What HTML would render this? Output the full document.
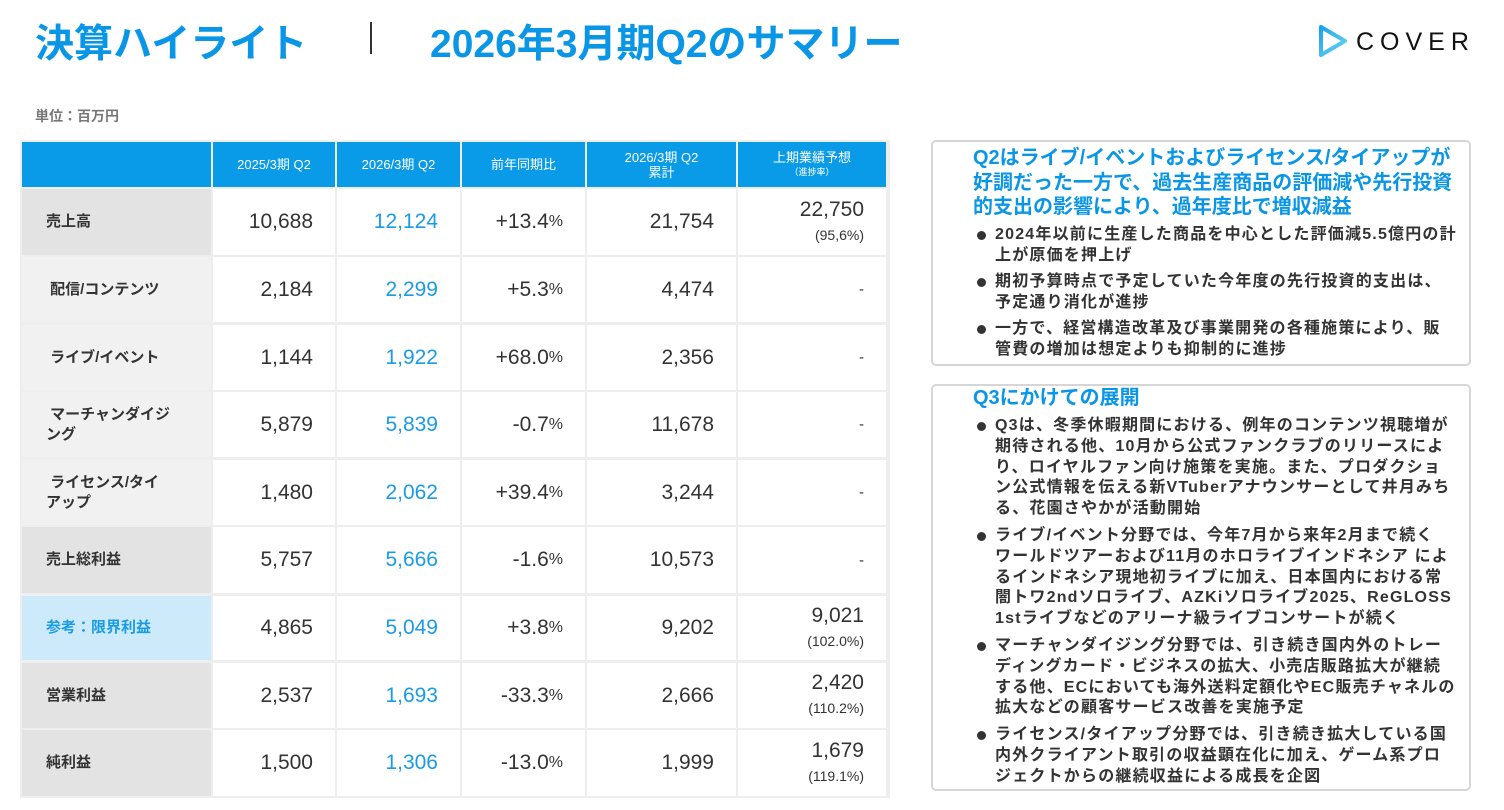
<!DOCTYPE html>
<html><head><meta charset="utf-8"><style>
body{margin:0;width:1504px;height:810px;background:#fff;font-family:"Liberation Sans","Noto Sans CJK JP",sans-serif;position:relative;overflow:hidden}
.a{position:absolute}
.h1{color:#0a96e6;font-size:39px;font-weight:bold;top:13px}
.c{position:absolute;background:#fff}
.hd{background:#0a9be8;color:#fff;font-size:13px;text-align:center;display:flex;align-items:center;justify-content:center;flex-direction:column;line-height:15px}
.lb{display:flex;align-items:center;padding-left:24px;font-size:15px;font-weight:bold;color:#333;box-sizing:border-box;line-height:20px}
.n{font-size:21px;color:#333;text-align:right;box-sizing:border-box;padding-right:22px;display:flex;align-items:center;justify-content:flex-end}
.bl{color:#1a9be6}
.box{position:absolute;border:2px solid #d6d6d6;border-radius:5px;box-sizing:border-box}
.t{color:#0a96e6;font-weight:bold;font-size:20px;line-height:24.5px;position:absolute;left:40px;white-space:nowrap}
ul{position:absolute;left:40px;margin:0;padding:0;list-style:none;font-size:16px;font-weight:bold;color:#333;line-height:20.5px;white-space:nowrap;letter-spacing:1.2px}
li{position:relative;padding-left:22px;margin-bottom:6px}
li:before{content:"";position:absolute;left:4px;top:6px;width:9px;height:9px;border-radius:50%;background:#333}
</style></head><body>
<div class="a h1" style="left:35px">決算ハイライト</div>
<div class="a" style="left:370px;top:22px;width:2px;height:32px;background:#333"></div>
<div class="a h1" style="left:430px">2026年3月期Q2のサマリー</div>
<svg class="a" style="left:1318px;top:24px" width="30" height="34"><defs><linearGradient id="g" x1="0" y1="0" x2="1" y2="1"><stop offset="0" stop-color="#1aa0f0"/><stop offset="1" stop-color="#6ed8f0"/></linearGradient></defs><path d="M3 3 L27 17 L3 31 Z" fill="none" stroke="url(#g)" stroke-width="4" stroke-linejoin="round"/></svg>
<div class="a" style="left:1356px;top:28px;font-size:25px;letter-spacing:6px;color:#111">COVER</div>
<div class="a" style="left:35px;top:106px;font-size:14px;font-weight:bold;color:#777">単位：百万円</div>
<div class="a" style="left:20px;top:140px;width:870px;height:658px;background:#eeeeee"></div>
<div id="tb"></div>
<div class="box" style="left:931px;top:140px;width:540px;height:226px">
<div class="t" style="top:4px">Q2はライブ/イベントおよびライセンス/タイアップが<br>好調だった一方で、過去生産商品の評価減や先行投資<br>的支出の影響により、過年度比で増収減益</div>
<ul style="top:83px"><li>2024年以前に生産した商品を中心とした評価減5.5億円の計<br>上が原価を押上げ</li><li>期初予算時点で予定していた今年度の先行投資的支出は、<br>予定通り消化が進捗</li><li>一方で、経営構造改革及び事業開発の各種施策により、販<br>管費の増加は想定よりも抑制的に進捗</li></ul>
</div>
<div class="box" style="left:931px;top:384px;width:540px;height:407px">
<div class="t" style="top:0px">Q3にかけての展開</div>
<ul style="top:30px;line-height:20.8px"><li>Q3は、冬季休暇期間における、例年のコンテンツ視聴増が<br>期待される他、10月から公式ファンクラブのリリースによ<br>り、ロイヤルファン向け施策を実施。また、プロダクショ<br>ン公式情報を伝える新VTuberアナウンサーとして井月みち<br>る、花園さやかが活動開始</li><li>ライブ/イベント分野では、今年7月から来年2月まで続く<br>ワールドツアーおよび11月のホロライブインドネシア によ<br>るインドネシア現地初ライブに加え、日本国内における常<br>闇トワ2ndソロライブ、AZKiソロライブ2025、ReGLOSS<br>1stライブなどのアリーナ級ライブコンサートが続く</li><li>マーチャンダイジング分野では、引き続き国内外のトレー<br>ディングカード・ビジネスの拡大、小売店販路拡大が継続<br>する他、ECにおいても海外送料定額化やEC販売チャネルの<br>拡大などの顧客サービス改善を実施予定</li><li>ライセンス/タイアップ分野では、引き続き拡大している国<br>内外クライアント取引の収益顕在化に加え、ゲーム系プロ<br>ジェクトからの継続収益による成長を企図</li></ul>
</div>
<script>
var X=[22,213,337,462,587,738,888];
var H=['','2025/3期 Q2','2026/3期 Q2','前年同期比','2026/3期 Q2<br>累計','上期業績予想<br><span style="font-size:9px">（進捗率）</span>'];
var R=[[189,255],[257,322],[325,390],[392,457],[460,525],[527,593],[596,660],[663,728],[730,796]];
var D=[['売上高','10,688','12,124','+13.4','21,754','22,750','(95,6%)',0],
['&nbsp;配信/コンテンツ','2,184','2,299','+5.3','4,474','-','',1],
['&nbsp;ライブ/イベント','1,144','1,922','+68.0','2,356','-','',1],
['&nbsp;マーチャンダイジ<br>ング','5,879','5,839','-0.7','11,678','-','',1],
['&nbsp;ライセンス/タイ<br>アップ','1,480','2,062','+39.4','3,244','-','',1],
['売上総利益','5,757','5,666','-1.6','10,573','-','',0],
['参考：限界利益','4,865','5,049','+3.8','9,202','9,021','(102.0%)',2],
['営業利益','2,537','1,693','-33.3','2,666','2,420','(110.2%)',0],
['純利益','1,500','1,306','-13.0','1,999','1,679','(119.1%)',0]];
var h='';
for(var i=0;i<6;i++){h+='<div class="c hd" style="left:'+X[i]+'px;top:142px;width:'+(X[i+1]-X[i]-2)+'px;height:45px">'+H[i]+'</div>';}
D.forEach(function(d,r){var t=R[r][0],hh=R[r][1]-t;
var bg=d[7]==2?'#cdeafa':(d[7]==1?'#f1f1f1':'#e3e3e3');var col=d[7]==2?'#1a9be6':'#333';
h+='<div class="c lb" style="left:22px;top:'+t+'px;width:189px;height:'+hh+'px;background:'+bg+';color:'+col+'">'+d[0]+'</div>';
for(var i=1;i<6;i++){var w=X[i+1]-X[i]-2;var s=d[i];
if(i==3)s=s+'<span style="font-size:16px">%</span>';
if(i==5){ if(s=='-') s='<span style="font-size:15px">-</span>'; else s='<div style="text-align:right;line-height:24px">'+s+'<br><span style="font-size:14px">'+d[6]+'</span></div>';}
h+='<div class="c n'+(i==2?' bl':'')+'" style="left:'+X[i]+'px;top:'+t+'px;width:'+w+'px;height:'+hh+'px">'+s+'</div>';}
});
document.getElementById('tb').innerHTML=h;
</script>
</body></html>
